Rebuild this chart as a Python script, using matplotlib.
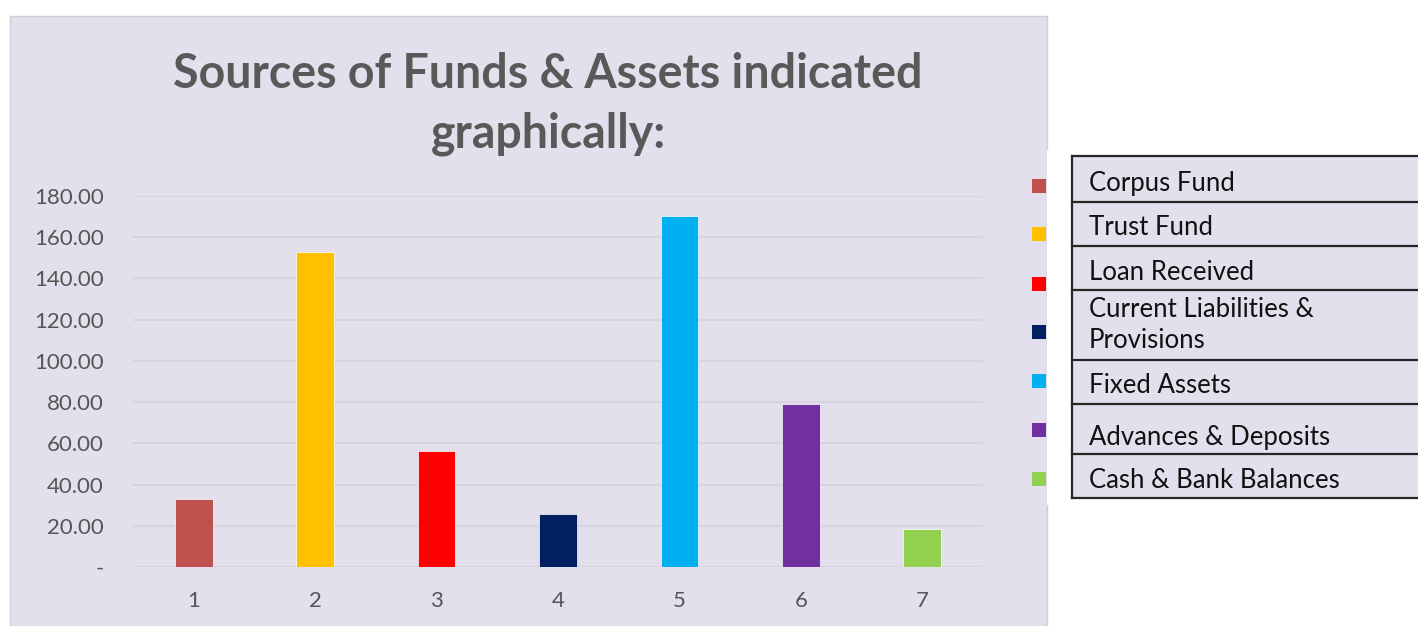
import matplotlib.pyplot as plt
from matplotlib.patches import Rectangle
from matplotlib.ticker import FuncFormatter

plt.rcParams['font.family'] = ['Lato', 'DejaVu Sans']

# data
items = ['Corpus Fund', 'Trust Fund', 'Loan Received',
         'Current Liabilities &\nProvisions', 'Fixed Assets',
         'Advances & Deposits', 'Cash & Bank Balances']
values = [33.2, 152.8, 56.3, 25.9, 170.2, 79.3, 18.3]
positions = [1, 2, 3, 4, 5, 6, 7]
colors = ['#C0504D', '#FFC000', '#FF0000', '#002060', '#00B0F0', '#7030A0', '#92D050']
yticks = [0, 20, 40, 60, 80, 100, 120, 140, 160, 180]

W, H = 1418, 626
bg = '#E4DFEC'
txt = '#595959'

fig = plt.figure(figsize=(W / 100, H / 100), dpi=100)
fig.patch.set_facecolor('white')

# lavender chart area (pixel coords -> figure fraction)
def px(x0, y0, x1, y1):
    return [x0 / W, 1 - y1 / H, (x1 - x0) / W, (y1 - y0) / H]

fig.add_artist(Rectangle((10 / W, 0), (1047 - 10) / W, 1 - 16 / H,
                         transform=fig.transFigure, facecolor=bg,
                         edgecolor='#D0D0D0', lw=1, zorder=0))

ax = fig.add_axes(px(133, 196, 983, 567))
ax.set_facecolor('none')
ax.bar(positions, values, width=0.31, color=colors, edgecolor='white', linewidth=0.5, zorder=3)
ax.set_xlim(0.5, 7.5)
ax.set_ylim(0, 180)
ax.set_yticks(yticks)
ax.set_xticks(positions)
ax.yaxis.set_major_formatter(FuncFormatter(lambda v, p: '-' if v == 0 else f'{v:.2f}'))
ax.grid(axis='y', color='#D8D4DE', lw=1.5, zorder=0)
for s in ax.spines.values():
    s.set_visible(False)
ax.tick_params(length=0, labelsize=16, labelcolor='#555555')
ax.tick_params(axis='y', pad=21)
ax.tick_params(axis='x', pad=17)

fig.text(548 / W, 1 - 104 / H, 'Sources of Funds & Assets indicated\ngraphically:',
         ha='center', va='center', fontsize=33.5, fontweight='bold', color=txt,
         linespacing=1.42)

# legend markers + table, in pixel coordinates
lg = fig.add_axes(px(1025, 150, W, 505))
lg.set_xlim(1025, W)
lg.set_ylim(505, 150)
lg.axis('off')
rows = [155.7, 201.7, 246, 290, 360, 404, 454, 497.7]
text_y = [184, 228, 273, 325, 386, 438, 481]
marker_y = [185.7, 234, 284, 332, 381, 430, 479]
lg.add_patch(Rectangle((1047, 150), 25, 360, facecolor='white', edgecolor='none', zorder=1))
lg.add_patch(Rectangle((1072, rows[0]), W - 1072 + 5, rows[-1] - rows[0],
                       facecolor=bg, edgecolor='none', zorder=1))
for r in rows:
    lg.plot([1072, W + 5], [r, r], color='#262626', lw=1.6, zorder=3, clip_on=False)
lg.plot([1072, 1072], [rows[0], rows[-1]], color='#262626', lw=1.6, zorder=3)
for lab, ty, my, c in zip(items, text_y, marker_y, colors):
    lg.add_patch(Rectangle((1032, my - 7), 14, 14, facecolor=c, edgecolor='none', zorder=3))
    lg.text(1089, ty, lab, ha='left', va='center', fontsize=18.5, color='#111111',
            linespacing=1.3, zorder=4)

fig.savefig('out.png', dpi=100, facecolor=fig.get_facecolor())
